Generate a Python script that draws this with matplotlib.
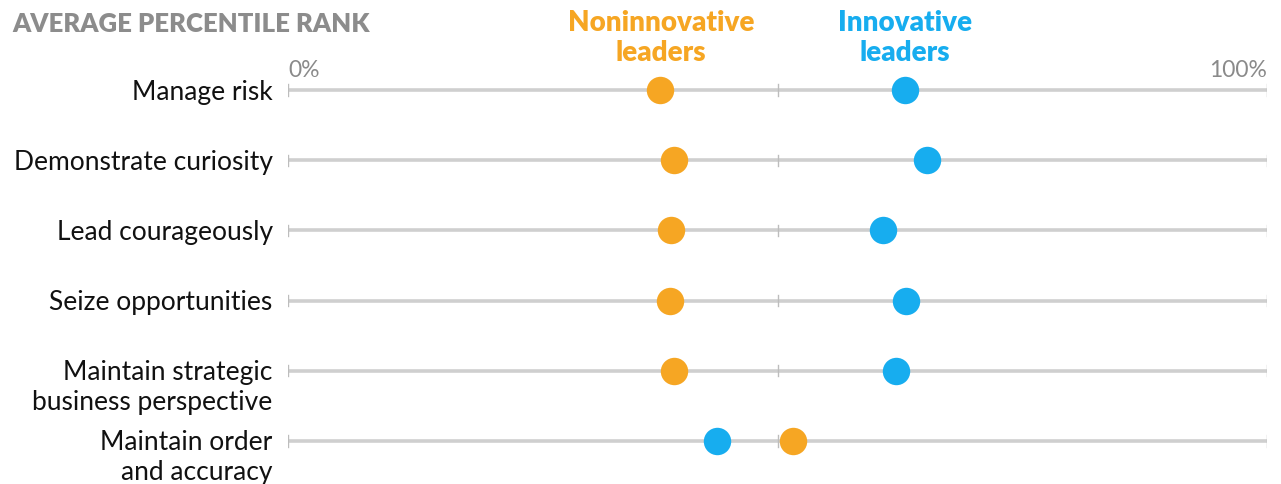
import numpy as np
import matplotlib.pyplot as plt

plt.rcParams['font.family'] = ['Lato', 'DejaVu Sans']

labels = ['Manage risk', 'Demonstrate curiosity', 'Lead courageously',
          'Seize opportunities', 'Maintain strategic\nbusiness perspective',
          'Maintain order\nand accuracy']
noninnovative = [38.0, 39.4, 39.1, 39.0, 39.4, 51.6]
innovative = [63.0, 65.3, 60.8, 63.1, 62.1, 43.8]

orange = '#F6A623'
blue = '#17ADEF'
line_gray = '#CFCFCF'

fig = plt.figure(figsize=(12.81, 4.84), dpi=100)
ax = fig.add_axes([288/1281, 1-483/484, 979/1281, (483-19.8)/484])
ax.set_xlim(0, 100)
ax.set_ylim(5.6, -1)
ax.axis('off')

rows = np.arange(len(labels))
for i in rows:
    ax.plot([0, 100], [i, i], color=line_gray, lw=2.6, zorder=1, solid_capstyle='butt')
    for t in [0, 50, 100]:
        ax.plot([t, t], [i - 0.08, i + 0.08], color='#BDBDBD', lw=1, zorder=1)
    # first line of each label sits on the row, next lines below
    for k, part in enumerate(labels[i].split('\n')):
        ax.annotate(part, (0, i), xytext=(-11, -1.5 - k * 30 * 0.72), textcoords='offset points',
                    ha='right', va='center', fontsize=19, color='#111111')

ax.scatter(noninnovative, rows, s=390, color=orange, zorder=3, linewidths=0)
ax.scatter(innovative, rows, s=390, color=blue, zorder=3, linewidths=0)

ax.text(0, -0.13, '0%', ha='left', va='bottom', fontsize=16.5, color='#8A8A8A')
ax.text(100, -0.13, '100%', ha='right', va='bottom', fontsize=16.5, color='#8A8A8A')

fig.text(12/1281, 1-24/484, 'AVERAGE PERCENTILE RANK', ha='left', va='center',
         fontsize=18.5, fontweight='heavy', color='#8C8C8C')
fig.text(661/1281, 1-38/484, 'Noninnovative\nleaders', ha='center', va='center',
         fontsize=20, fontweight='heavy', color=orange, linespacing=1.15)
fig.text(905/1281, 1-38/484, 'Innovative\nleaders', ha='center', va='center',
         fontsize=20, fontweight='heavy', color=blue, linespacing=1.15)

fig.savefig('out.png', dpi=100)
